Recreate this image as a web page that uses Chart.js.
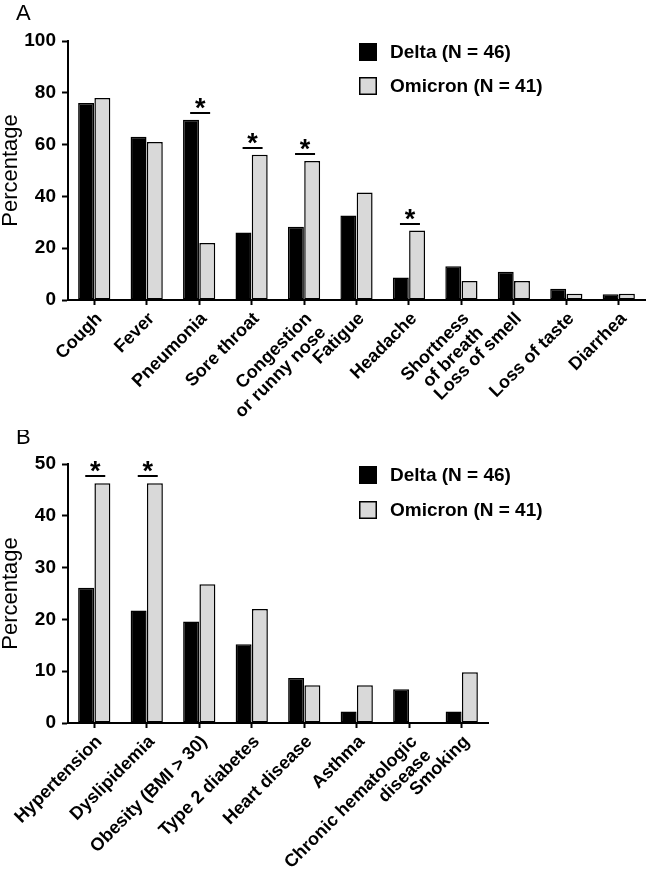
<!DOCTYPE html>
<html>
<head>
<meta charset="utf-8">
<script src="https://cdn.jsdelivr.net/npm/chart.js@4.4.1/dist/chart.umd.min.js"></script>
<style>
  body { margin: 0; background: #fff; }
  #wrapA { position: absolute; left: 0; top: 0; }
  #wrapB { position: absolute; left: 0; top: 430px; }
</style>
</head>
<body>
<div id="wrapA"><canvas id="chartA" width="646" height="430"></canvas></div>
<div id="wrapB"><canvas id="chartB" width="646" height="445"></canvas></div>
<script>
// panel A: symptoms
const symptomLabels = ['Cough', 'Fever', 'Pneumonia', 'Sore throat', ['Congestion', 'or runny nose'],
  'Fatigue', 'Headache', ['Shortness', 'of breath'], 'Loss of smell', 'Loss of taste', 'Diarrhea'];
const symptomDelta = [76.1, 63.0, 69.6, 26.1, 28.3, 32.6, 8.7, 13.0, 10.9, 4.3, 2.2];
const symptomOmicron = [78.0, 61.0, 22.0, 56.1, 53.7, 41.5, 26.8, 7.3, 7.3, 2.4, 2.4];
const symptomStars = [2, 3, 4, 6];
const symptomTicks = [0, 20, 40, 60, 80, 100];

// panel B: comorbidities
const comorbLabels = ['Hypertension', 'Dyslipidemia', 'Obesity (BMI > 30)', 'Type 2 diabetes',
  'Heart disease', 'Asthma', ['Chronic hematologic', 'disease'], 'Smoking'];
const comorbDelta = [26.1, 21.7, 19.6, 15.2, 8.7, 2.2, 6.5, 2.2];
const comorbOmicron = [46.3, 46.3, 26.8, 22.0, 7.3, 7.3, 0, 9.8];
const comorbStars = [0, 1];
const comorbTicks = [0, 10, 20, 30, 40, 50];

const seriesNames = ['Delta (N = 46)', 'Omicron (N = 41)'];
const FONT = "'Liberation Sans', Arial, sans-serif";
const GREY = '#d9d9d9';

Chart.defaults.font.family = FONT;
Chart.defaults.color = '#000';

// stars, legend and panel letter
const annot = {
  id: 'annot',
  afterDatasetsDraw(chart, args, opts) {
    const ctx = chart.ctx;
    const xs = chart.scales.x, ys = chart.scales.y;
    ctx.save();
    ctx.strokeStyle = '#000';
    ctx.fillStyle = '#000';
    ctx.lineWidth = 2;
    opts.stars.forEach(i => {
      const top = Math.min(...chart.data.datasets.map(d => ys.getPixelForValue(d.data[i])));
      const cx = xs.getPixelForValue(i) + 1;
      const ly = Math.round(top - 7);
      ctx.beginPath();
      ctx.moveTo(cx - 10, ly);
      ctx.lineTo(cx + 10, ly);
      ctx.stroke();
      ctx.font = 'bold 27px ' + FONT;
      ctx.textAlign = 'center';
      ctx.textBaseline = 'alphabetic';
      ctx.fillText('*', cx, ly + 4);
    });

    // legend
    ctx.font = 'bold 19px ' + FONT;
    ctx.textAlign = 'left';
    ctx.textBaseline = 'middle';
    chart.data.datasets.forEach((d, k) => {
      const cy = opts.legendY[k];
      ctx.fillStyle = d.backgroundColor;
      ctx.fillRect(359, cy - 9, 18, 18);
      ctx.lineWidth = 1.5;
      ctx.strokeRect(359.75, cy - 8.25, 16.5, 16.5);
      ctx.fillStyle = '#000';
      ctx.fillText(d.label, 390, cy + 1);
    });

    ctx.font = '22px ' + FONT;
    ctx.textBaseline = 'alphabetic';
    ctx.fillText(opts.letter, 16, opts.letterY);
    ctx.restore();
  }
};

function makeChart(id, labels, delta, omicron, ticks, stars, pad, xHeight, letter, letterY, legendY) {
  return new Chart(document.getElementById(id), {
    type: 'bar',
    data: {
      labels: labels,
      datasets: [{
        label: seriesNames[0],
        data: delta,
        backgroundColor: '#000',
        borderColor: '#000',
        borderWidth: 1.5,
        borderSkipped: false
      }, {
        label: seriesNames[1],
        data: omicron,
        backgroundColor: GREY,
        borderColor: '#000',
        borderWidth: c => (c.raw === 0 ? 0 : 1.5),
        borderSkipped: false
      }]
    },
    options: {
      responsive: false,
      animation: false,
      layout: { padding: pad },
      datasets: { bar: { categoryPercentage: 0.62, barPercentage: 0.98 } },
      plugins: {
        legend: { display: false },
        tooltip: { enabled: false },
        annot: { stars: stars, letter: letter, letterY: letterY, legendY: legendY }
      },
      scales: {
        x: {
          grid: { drawOnChartArea: false, offset: false, tickLength: 5, tickWidth: 2, tickColor: '#000' },
          border: { color: '#000', width: 2 },
          ticks: { autoSkip: false, minRotation: 45, maxRotation: 45, padding: 4, labelOffset: 5,
                   font: { size: 18, weight: 'bold', lineHeight: 1.1 }, color: '#000' },
          afterFit(s) { s.height = xHeight; }
        },
        y: {
          min: ticks[0],
          max: ticks[ticks.length - 1],
          afterBuildTicks(s) { s.ticks = ticks.map(v => ({ value: v })); },
          grid: { drawOnChartArea: false, tickLength: 6, tickWidth: 2, tickColor: '#000' },
          border: { color: '#000', width: 2 },
          ticks: { padding: 6, font: { size: 19, weight: 'bold' }, color: '#000' },
          title: { display: true, text: 'Percentage', padding: 0,
                   font: { size: 22, weight: 'normal', lineHeight: 1 }, color: '#000' },
          afterFit(s) { s.width = 68; }
        }
      }
    },
    plugins: [annot]
  });
}

makeChart('chartA', symptomLabels, symptomDelta, symptomOmicron, symptomTicks, symptomStars,
  { top: 41, right: 1, left: 0, bottom: 0 }, 130, 'A', 20, [52, 86]);
makeChart('chartB', comorbLabels, comorbDelta, comorbOmicron, comorbTicks, comorbStars,
  { top: 34, right: 158, left: 0, bottom: 0 }, 152, 'B', 14, [45, 80]);
</script>
</body>
</html>
